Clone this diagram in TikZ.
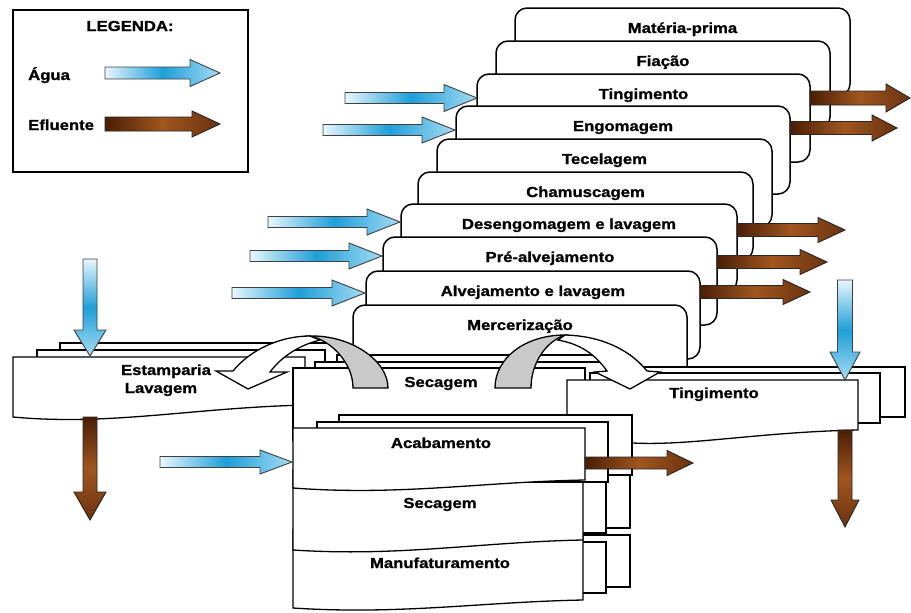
\documentclass[tikz,border=0pt]{standalone}
\usepackage{fontspec}
\setmainfont{Liberation Sans}
\newfontfamily\lblfont[FakeStretch=1.15, BoldFeatures={FakeBold=1.2}]{Liberation Sans}

\definecolor{wlight}{HTML}{E8F7FD}
\definecolor{wdark}{HTML}{1E9FD8}
\definecolor{wtip}{HTML}{A6DBF3}
\definecolor{bdark}{HTML}{4A1E06}
\definecolor{bmid}{HTML}{A0561F}
\definecolor{btip}{HTML}{6A3210}
\definecolor{turngray}{HTML}{C9C9C9}

% horizontal block arrow: style, x start, x head, x tip, y, shaft half, head half
\newcommand{\hblk}[7]{\path[#1] (#2,#5-#6) -- (#3,#5-#6) -- (#3,#5-#7) -- (#4,#5)
  -- (#3,#5+#7) -- (#3,#5+#6) -- (#2,#5+#6) -- cycle;}
% vertical block arrow: style, y start, y head, y tip, x, shaft half, head half
\newcommand{\vblk}[7]{\path[#1] (#5-#6,#2) -- (#5-#6,#3) -- (#5-#7,#3) -- (#5,#4)
  -- (#5+#7,#3) -- (#5+#6,#3) -- (#5+#6,#2) -- cycle;}

\tikzset{
  lbl/.style={font=\lblfont\bfseries\fontsize{14.5}{16}\selectfont, inner sep=0pt, anchor=base},
  card/.style={draw=black, line width=1.5pt, fill=white, rounded corners=12pt},
  sheet/.style={draw=black, line width=1.3pt, fill=white},
  water/.style={draw=black!75, line width=0.9pt, left color=wlight, right color=wtip, middle color=wdark},
  waterv/.style={draw=black!75, line width=0.9pt, top color=wlight, bottom color=wtip, middle color=wdark},
  effl/.style={draw=black!85, line width=0.9pt, left color=bdark, right color=btip, middle color=bmid},
  efflv/.style={draw=black!85, line width=0.9pt, top color=bdark, bottom color=btip, middle color=bmid},
  turnw/.style={draw=black, line width=1.3pt, fill=white},
  turng/.style={draw=black, line width=1.3pt, fill=turngray},
}

\begin{document}
\begin{tikzpicture}[x=1pt,y=-1pt]
\useasboundingbox[fill=white] (0,0) rectangle (911,613);

% ---------- legend ----------
\draw[line width=1.8pt] (13,10) rectangle (248,172);
\node[lbl] (leg) at (130,31) {LEGENDA:};
\node[lbl, anchor=base west] (agua) at (28,80) {Água};
\node[lbl, anchor=base west] (efl) at (28,130) {Efluente};
\hblk{water}{105}{190}{220}{73}{6}{13.5}
\hblk{effl}{105}{192}{220}{124}{7}{13}

% ---------- stacked process cards (back to front) ----------
\foreach \l/\t/\r/\txt/\nm in {
  515/8/850/Matéria-prima/mp,
  496/41/830/Fiação/fia,
  477/74/810/Tingimento/ting1,
  456/106/790/Engomagem/engo,
  437/139/772/Tecelagem/tece,
  418/172/753/Chamuscagem/cham,
  401/204/737/Desengomagem e lavagem/deseng,
  383/237/717/Pré-alvejamento/prealv,
  366/271/700/Alvejamento e lavagem/alv,
  353/305/687/Mercerização/merc}
{
  \draw[card] (\l,\t) rectangle (\r,{\t+88});
  \node[lbl] (\nm) at ({(\l+\r)/2},{\t+25}) {\txt};
}

% water in
\hblk{water}{345}{444}{477}{98}{5.5}{13.5}
\hblk{water}{323}{422}{455}{130}{5.5}{13}
\hblk{water}{268}{367}{400}{222}{5.5}{13}
\hblk{water}{250}{349}{382}{256}{5.5}{13}
\hblk{water}{232}{332}{365}{293}{5.5}{13}
% effluent out
\hblk{effl}{810}{886}{910}{98}{7}{14}
\hblk{effl}{790}{872}{897}{128}{6.5}{13}
\hblk{effl}{737}{818}{845}{230}{6.5}{12.5}
\hblk{effl}{717}{800}{827}{262}{6.5}{12.5}
\hblk{effl}{700}{783}{810}{292}{6.5}{12.5}

% ---------- Estamparia / Lavagem ----------
\draw[sheet] (60,343) rectangle (345,395);
\draw[sheet] (37,350) rectangle (325,400);
\draw[sheet] (13,357) -- (305,357) -- (305,405)
  .. controls (190,408) and (110,426) .. (13,417) -- cycle;
\node[lbl] (estamp) at (166,375) {Estamparia};
\node[lbl] (lavag) at (161,393) {Lavagem};

% ---------- Secagem (upper) ----------
\draw[sheet] (337,355) rectangle (630,427);
\draw[sheet] (315,362) rectangle (606,433);
\draw[sheet] (293,368) rectangle (585,440);
\node[lbl] (sec1) at (441,387) {Secagem};

% ---------- Tingimento (lower right) ----------
\draw[sheet] (611,367) rectangle (905,417);
\draw[sheet] (590,373) rectangle (880,423);
\draw[sheet] (567,380) -- (858,380) -- (858,430)
  .. controls (760,432) and (690,446) .. (633,443)
  .. controls (600,441) and (585,439) .. (567,439) -- cycle;
\node[lbl] (ting2) at (714,398) {Tingimento};

% ---------- Manufaturamento ----------
\draw[sheet] (339,535) rectangle (630,587);
\draw[sheet] (317,542) rectangle (606,593);
\draw[sheet] (293,530) -- (583,530) -- (583,600)
  .. controls (480,602) and (400,615) .. (293,608) -- cycle;
\node[lbl] (manuf) at (440,568) {Manufaturamento};

% ---------- Secagem (lower) ----------
\draw[sheet] (339,475) rectangle (630,528);
\draw[sheet] (317,482) rectangle (606,533);
\draw[sheet] (293,470) -- (583,470) -- (583,540)
  .. controls (480,542) and (400,557) .. (293,550) -- cycle;
\node[lbl] (sec2) at (440,508) {Secagem};

% ---------- Acabamento ----------
\draw[sheet] (339,415) rectangle (632,475);
\draw[sheet] (317,422) rectangle (608,482);
\draw[sheet] (293,428) -- (585,428) -- (585,480)
  .. controls (480,482) and (400,496) .. (293,488) -- cycle;
\node[lbl] (acab) at (441,448) {Acabamento};

% ---------- turning arrows ----------
\draw[turnw] (310,336) .. controls (280,336) and (250,350) .. (233,371)
  -- (216,371) -- (248,389) -- (287,372) -- (270,372)
  .. controls (282,356) and (300,345) .. (320,340) -- cycle;
\draw[turng] (388,388) .. controls (388,360) and (350,335) .. (310,336)
  .. controls (330,340) and (353,362) .. (353,388) -- cycle;

\draw[turnw] (565,335) .. controls (602,336) and (630,350) .. (647,371)
  -- (660,372) -- (630,389) -- (595,372) -- (607,371)
  .. controls (595,354) and (580,344) .. (558,340) -- cycle;
\draw[turng] (495,388) .. controls (495,358) and (525,335) .. (565,335)
  .. controls (547,341) and (531,362) .. (531,388) -- cycle;

% ---------- vertical water / effluent ----------
\vblk{waterv}{259}{330}{356}{90}{7}{16}
\vblk{efflv}{417}{492}{520}{90}{7}{16}
\vblk{waterv}{280}{352}{380}{845}{7.5}{15}
\vblk{efflv}{430}{500}{527}{845}{7}{14}

% Acabamento water in / effluent out
\hblk{water}{160}{260}{292}{462}{5.5}{12}
\hblk{effl}{585}{667}{693}{463}{6}{12.5}
\end{tikzpicture}
\end{document}
